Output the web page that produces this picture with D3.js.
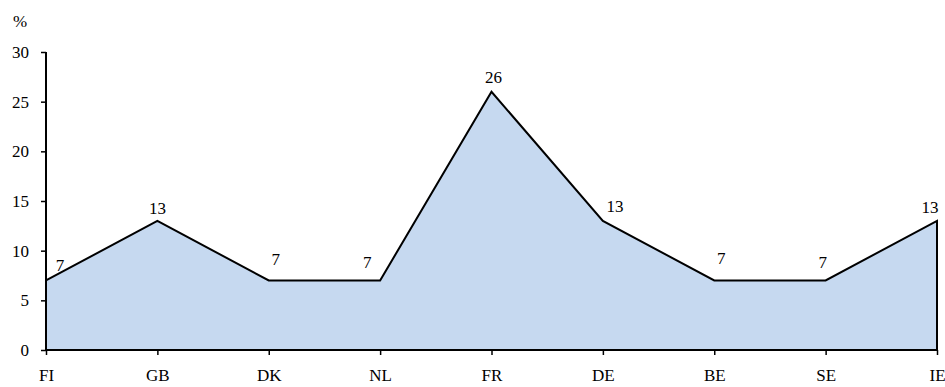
<!DOCTYPE html>
<html>
<head>
<meta charset="utf-8">
<script src="https://cdn.jsdelivr.net/npm/d3@7"></script>
<style>
  body { margin: 0; background: #fff; }
  text { font-family: "Liberation Serif", "Times New Roman", serif; font-size: 17px; fill: #000; }
</style>
</head>
<body>
<div class="chart"></div>
<script>
// Data
var countries = ["FI", "GB", "DK", "NL", "FR", "DE", "BE", "SE", "IE"];
var values = [7, 13, 7, 7, 26, 13, 7, 7, 13];
var yTicks = [0, 5, 10, 15, 20, 25, 30];

// label nudges (Excel placed them by hand)
var labelDx = [14, 0, 7, -13, 2, 12, 7, -3, -7];
var labelDy = [-15, -13, -21, -18, -15, -15, -22, -18, -14];

var svgWidth = 945;
var svgHeight = 387;
var margin = { top: 52, right: 8, bottom: 37, left: 46 };
var width = svgWidth - margin.left - margin.right;
var height = svgHeight - margin.top - margin.bottom;

var svg = d3.select(".chart").append("svg")
  .attr("width", svgWidth)
  .attr("height", svgHeight);

var chart = svg.append("g")
  .attr("transform", "translate(" + margin.left + "," + margin.top + ")");

var x = d3.scalePoint().domain(countries).range([0, width]);
var y = d3.scaleLinear().domain([0, 30]).range([height, 0]);

var rows = countries.map(function(c, i) { return { c: c, v: values[i], i: i }; });

// filled area
var area = d3.area()
  .x(function(d) { return x(d.c); })
  .y0(y(0))
  .y1(function(d) { return y(d.v); });

chart.append("path")
  .datum(rows)
  .attr("d", area)
  .attr("fill", "#c6d9f0")
  .attr("stroke", "none");

// outline: top line plus right edge down to the baseline
var last = rows[rows.length - 1];
var line = d3.line()
  .x(function(d) { return d[0]; })
  .y(function(d) { return d[1]; });
var pts = rows.map(function(d) { return [x(d.c), y(d.v)]; });
pts.push([x(last.c), y(0)]);

chart.append("path")
  .attr("d", line(pts))
  .attr("fill", "none")
  .attr("stroke", "#000")
  .attr("stroke-width", 2)
  .attr("stroke-linejoin", "miter");

// y axis
var leftAxis = d3.axisLeft(y).tickValues(yTicks).tickSize(5).tickPadding(12);
var gy = chart.append("g").call(leftAxis);
gy.select(".domain").attr("d", "M0," + y(30) + "V" + y(0)).attr("stroke-width", 2);
gy.selectAll(".tick line").attr("stroke-width", 1.5);
gy.selectAll("text").style("font-family", "Liberation Serif").style("font-size", "17px");

// x axis
var bottomAxis = d3.axisBottom(x).tickSize(5).tickPadding(14);
var gx = chart.append("g").attr("transform", "translate(0," + height + ")").call(bottomAxis);
gx.select(".domain").attr("d", "M0,0H" + width).attr("stroke-width", 2);
gx.selectAll(".tick line").attr("stroke-width", 1.5);
gx.selectAll("text").style("font-family", "Liberation Serif").style("font-size", "17px");

// data labels
chart.selectAll(".lbl")
  .data(rows)
  .enter()
  .append("text")
  .attr("class", "lbl")
  .attr("text-anchor", "middle")
  .attr("x", function(d) { return x(d.c) + labelDx[d.i]; })
  .attr("y", function(d) { return y(d.v) + labelDy[d.i] + 6; })
  .text(function(d) { return d.v; });

// unit label
svg.append("text")
  .attr("x", 20)
  .attr("y", 27)
  .attr("text-anchor", "middle")
  .text("%");
</script>
</body>
</html>
